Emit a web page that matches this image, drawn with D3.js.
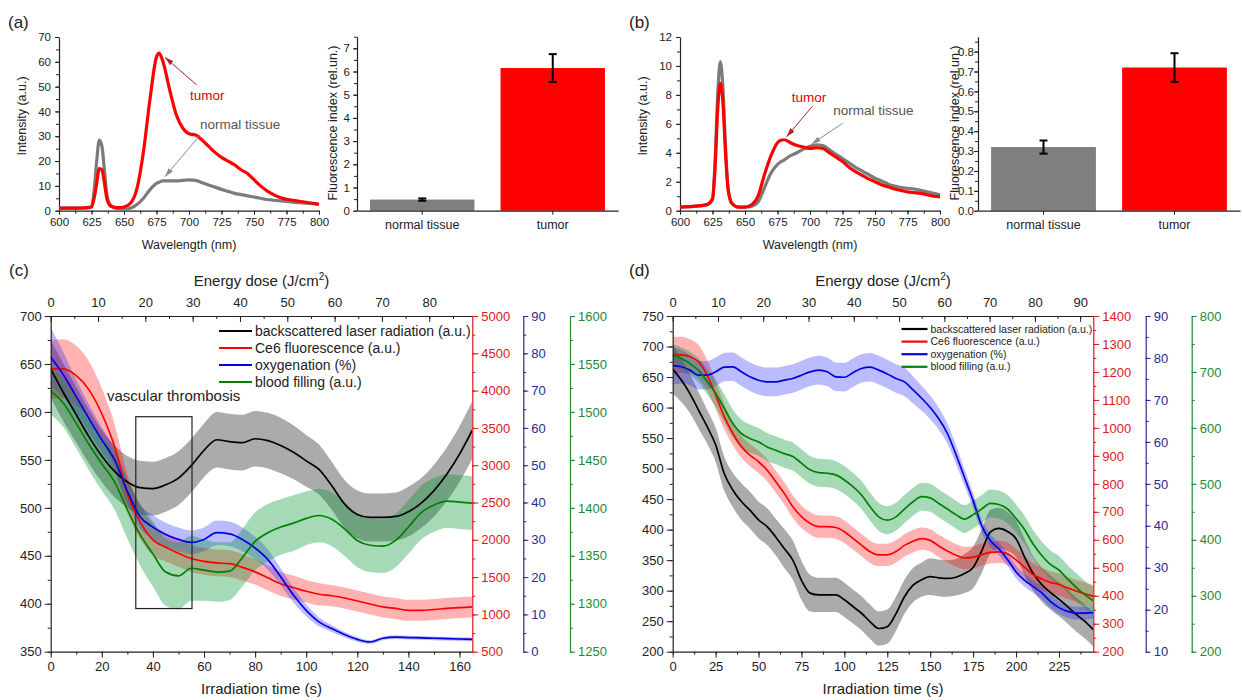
<!DOCTYPE html>
<html>
<head>
<meta charset="utf-8">
<script src="https://cdn.jsdelivr.net/npm/d3@7"></script>
<style>
  body { margin: 0; background: #fff; overflow: hidden; }
</style>
</head>
<body>
<div id="chart"></div>
<script>
// ---------- data ----------
// spectra, panels (a) and (b)
var wavelength = [600,610,620,625,627,629,631,633,635,637,640,645,650,655,660,665,670,675,677,680,685,690,695,700,705,710,715,720,725,730,735,740,745,750,755,760,765,770,775,780,785,790,795,800];
var specA_tumor  = [1,1,1.2,1.5,5,11,17,16.5,11,4.5,1.8,1.2,1.5,3,9,24,45,62,63.5,60,49,39,33.5,31,30.5,28.5,26,23.5,21.5,20,18.5,16.5,15,12.5,10,8,6.5,5.3,4.6,4.2,3.8,3.4,3,2.6];
var specA_normal = [1,1,1,1.5,8,20,28.5,26,16,6,2,0.8,0.5,1,2.5,5,8.5,11,11.5,12,12,12,12.2,12.4,12.2,11.3,10.4,9.5,8.6,7.8,7,6.5,6,5.5,5,4.5,4.2,4,3.7,3.4,3.2,3,2.8,2.6];
var specB_tumor  = [0.25,0.3,0.4,0.8,3,7,8.8,7.5,4,1.5,0.5,0.25,0.25,0.4,1,2.5,3.8,4.7,4.85,4.9,4.7,4.5,4.4,4.3,4.35,4.3,4,3.7,3.4,3,2.7,2.45,2.2,2,1.8,1.65,1.5,1.4,1.3,1.25,1.2,1.1,1,0.95];
var specB_normal = [0.25,0.3,0.4,0.8,3.5,8,10.3,8.5,4.5,1.5,0.5,0.25,0.25,0.3,0.6,1.6,2.6,3.2,3.35,3.5,3.8,4,4.25,4.45,4.55,4.5,4.2,3.9,3.6,3.3,3,2.75,2.5,2.25,2.05,1.85,1.7,1.6,1.55,1.5,1.4,1.3,1.2,1.1];
var wlTicks = [600,625,650,675,700,725,750,775,800];
var specA_yTicks = [0,10,20,30,40,50,60,70];
var specB_yTicks = [0,2,4,6,8,10,12];

// bar charts, panels (a) and (b)
var barCats = ["normal tissue", "tumor"];
var barA = [0.48, 6.15], barA_err = [0.05, 0.6];
var barB = [0.32, 0.72], barB_err = [0.033, 0.072];
var barA_yTicks = [0,1,2,3,4,5,6,7];
var barB_yTicks = [0,0.1,0.2,0.3,0.4,0.5,0.6,0.7,0.8];

// time courses, panel (c)
var timeC = [0,5,10,15,20,25,30,35,40,45,50,55,60,65,70,75,80,85,90,95,100,105,110,115,120,125,130,135,140,145,150,155,160,165];
var blackC    = [645,620,597,574,554,538,527,521,520,524,531,544,560,571,569,568,572,570,565,558,549,540,523,504,493,490,490,491,496,505,518,535,556,581];
var blackC_sd = [30,30,29,28,27,27,27,28,28,28,28,28,28,29,29,29,29,29,29,28,27,26,25,25,25,25,25,25,26,26,27,28,29,30];
var redC      = [4290,4290,4200,4010,3690,3250,2620,2240,2000,1900,1820,1750,1710,1690,1680,1630,1570,1490,1410,1360,1310,1270,1250,1220,1180,1140,1100,1080,1055,1055,1065,1080,1090,1100];
var redC_sd   = [390,400,400,380,340,300,260,230,210,190,180,180,180,180,180,180,170,170,160,160,150,150,140,140,140,140,140,140,140,140,140,140,140,140];
var blueC     = [79,74.2,68.4,62.5,56.8,51.4,43,36.2,33.4,31.4,30.1,29.3,30.1,31.9,31.6,30.1,27.8,24.7,20.1,15.2,11.1,8,6.2,4.6,3.3,2.6,3.6,3.9,3.8,3.7,3.6,3.5,3.4,3.3];
var blueC_sd  = [8,6,4.5,3.8,3.3,3.2,3.2,3.2,3.2,3.2,3.2,3.2,3.2,3.3,3.3,3.2,3,2.7,2.3,2,1.6,1.2,0.9,0.7,0.6,0.5,0.5,0.5,0.5,0.5,0.5,0.5,0.5,0.5];
var greenC    = [1522,1509,1488,1466,1446,1427,1398,1372,1352,1333,1329,1337,1335,1333,1334,1348,1365,1374,1380,1384,1389,1392,1388,1378,1366,1361,1360,1366,1380,1395,1403,1407,1406,1405];
var greenC_sd = [25,25,26,27,28,29,30,32,34,35,35,34,32,31,30,30,30,30,29,29,28,28,28,28,28,28,28,28,28,28,28,28,28,28];

// time courses, panel (d)
var timeD = [0,5,10,15,20,25,30,35,40,45,50,55,60,65,70,75,80,85,90,95,100,105,110,115,120,125,130,135,140,145,150,155,160,165,170,175,180,185,190,195,200,205,210,215,220,225,230,235,240,245];
var blackD    = [663,645,623,596,569,539,492,465,446,432,416,405,388,369,350,317,296,293,293,293,285,274,263,249,238,241,262,290,309,318,323,321,320,322,328,338,365,396,402,397,385,355,328,310,297,286,274,261,250,236];
var blackD_sd = [40,36,32,30,28,28,28,28,30,30,30,30,30,32,32,32,30,28,28,28,28,28,28,28,28,28,28,28,28,28,30,30,30,30,32,34,36,36,34,32,30,30,28,28,28,28,28,28,28,28];
var redD      = [1261,1261,1255,1237,1189,1118,1040,981,933,903,879,849,808,766,718,683,659,647,647,644,629,605,581,557,546,546,558,580,595,604,598,578,560,545,535,538,547,555,557,550,528,502,475,460,448,440,428,417,407,398];
var redD_sd   = [65,65,62,60,55,50,45,42,40,40,40,40,40,40,40,40,40,40,40,40,40,40,40,40,40,40,40,40,40,40,40,40,40,40,40,40,40,40,40,40,40,40,40,40,40,40,40,40,40,40];
var blueD     = [78.1,77.9,77.1,75.9,75.9,76.7,77.8,77.9,76.7,75.5,74.7,74.3,74.3,74.7,75.1,75.9,76.7,77.1,76.7,75.5,75.4,76.5,77.5,77.8,77.1,76.2,75.1,74.3,72.4,70.4,68.2,65.5,62,57,51.5,46,40,36.5,34.5,32,29,27,25.5,24,22,20.5,19.6,19.2,19.2,19.3];
var blueD_sd  = [4.5,4,3.6,3.4,3.4,3.4,3.4,3.4,3.4,3.4,3.4,3.4,3.4,3.4,3.4,3.4,3.4,3.4,3.4,3.4,3.4,3.4,3.4,3.4,3.4,3.4,3.4,3.4,3.2,3,2.8,2.6,2.4,2.2,2,1.8,1.6,1.5,1.5,1.5,1.5,1.5,1.5,1.5,1.5,1.5,1.5,1.5,1.5,1.5];
var greenD    = [730,724,715,703,683,662,635,608,590,581,575,566,560,554,549,537,525,520,519,516,507,495,480,459,441,435,441,455,468,477,475,465,455,445,437,445,455,465,463,455,438,418,392,372,356,346,330,315,302,291];
var greenD_sd = [20,20,21,22,23,24,25,25,25,25,25,25,25,25,25,25,25,25,25,25,25,25,25,25,25,25,25,25,25,25,25,25,25,25,25,25,25,25,25,25,25,25,25,25,25,25,25,25,25,25];

var legendLabels = ["backscattered laser radiation (a.u.)", "Ce6 fluorescence (a.u.)", "oxygenation (%)", "blood filling (a.u.)"];

// tick values for panels (c) and (d)
var timeTicksC = [0,20,40,60,80,100,120,140,160];
var doseTicksC = [0,10,20,30,40,50,60,70,80];
var leftTicksC = [350,400,450,500,550,600,650,700];
var redTicksC = [500,1000,1500,2000,2500,3000,3500,4000,4500,5000];
var blueTicksC = [0,10,20,30,40,50,60,70,80,90];
var greenTicksC = [1250,1300,1350,1400,1450,1500,1550,1600];

var timeTicksD = [0,25,50,75,100,125,150,175,200,225];
var doseTicksD = [0,10,20,30,40,50,60,70,80,90];
var leftTicksD = [200,250,300,350,400,450,500,550,600,650,700,750];
var redTicksD = [200,300,400,500,600,700,800,900,1000,1100,1200,1300,1400];
var blueTicksD = [10,20,30,40,50,60,70,80,90];
var greenTicksD = [200,300,400,500,600,700,800];

// ---------- drawing ----------
var FONT = "'Liberation Sans', Arial, Helvetica, sans-serif";
var RED = "#ff0000", RED_AX = "#d91a1a", BLUE = "#0000e0", BLUE_AX = "#2b2b8c", GREEN = "#008000", GREEN_AX = "#1f8a35";

var svg = d3.select("#chart").append("svg")
    .attr("width", 1242)
    .attr("height", 700)
    .style("font-family", FONT);

var defs = svg.append("defs");
function marker(id, color) {
  defs.append("marker")
      .attr("id", id)
      .attr("viewBox", "0 0 10 6")
      .attr("refX", 10).attr("refY", 3)
      .attr("markerWidth", 9).attr("markerHeight", 6)
      .attr("markerUnits", "userSpaceOnUse")
      .attr("orient", "auto")
    .append("path")
      .attr("d", "M0,0 L10,3 L0,6 Z")
      .attr("fill", color);
}
marker("arrRed", "#b32222");
marker("arrGray", "#8a8a8a");

// generic axis with major + minor ticks
function drawAxis(orient, scale, tx, ty, major, minorStep, opt) {
  opt = opt || {};
  var make = {left: d3.axisLeft, right: d3.axisRight, top: d3.axisTop, bottom: d3.axisBottom}[orient];
  var dir = opt.inward ? -1 : 1;
  var color = opt.color || "#222";
  var g = svg.append("g").attr("transform", "translate(" + tx + "," + ty + ")");
  if (minorStep) {
    var dom = scale.domain();
    var lo = Math.min(dom[0], dom[1]), hi = Math.max(dom[0], dom[1]);
    var minor = d3.range(Math.ceil(lo / minorStep - 1e-9) * minorStep, hi + 1e-9, minorStep);
    g.append("g")
        .call(make(scale).tickValues(minor).tickSize(3 * dir).tickSizeOuter(0).tickFormat(""))
      .select(".domain").remove();
  }
  var main = g.append("g")
      .call(make(scale).tickValues(major).tickSize((opt.tick || 6) * dir).tickSizeOuter(0)
        .tickPadding(opt.pad == null ? 3 : opt.pad).tickFormat(opt.fmt || d3.format("d")));
  g.selectAll(".tick line").attr("stroke", color).attr("stroke-width", 1);
  main.select(".domain").attr("stroke", color).attr("stroke-width", 1.2);
  main.selectAll(".tick text")
      .attr("fill", color)
      .attr("font-size", opt.size || 12)
      .attr("font-family", FONT);
  return g;
}

function label(txt, x, y, size, opt) {
  opt = opt || {};
  var t = svg.append("text")
      .attr("x", x).attr("y", y)
      .attr("font-size", size)
      .attr("fill", opt.color || "#222")
      .attr("text-anchor", opt.anchor || "start")
      .text(txt);
  if (opt.rotate) t.attr("transform", "rotate(-90," + x + "," + y + ")");
  return t;
}

// ---- spectrum panels ----
function spectrumPanel(p) {
  var x = d3.scaleLinear().domain([600, 800]).range([p.left, p.right]);
  var y = d3.scaleLinear().domain([0, p.ymax]).range([p.bottom, p.top]);

  drawAxis("bottom", x, 0, p.bottom, wlTicks, 12.5, {tick: 4, pad: 3, size: 11.5});
  drawAxis("left", y, p.left, 0, p.yTicks, p.yMinor, {tick: 4, pad: 4, size: 11.5});

  var line = d3.line()
      .x(function(d, i) { return x(wavelength[i]); })
      .y(function(d) { return y(d); })
      .curve(d3.curveMonotoneX);

  svg.append("path").datum(p.normal)
      .attr("d", line).attr("fill", "none")
      .attr("stroke", "#7b7b7b").attr("stroke-width", 3.2).attr("stroke-linejoin", "round");
  svg.append("path").datum(p.tumor)
      .attr("d", line).attr("fill", "none")
      .attr("stroke", RED).attr("stroke-width", 3.2).attr("stroke-linejoin", "round");

  // annotations
  p.notes.forEach(function(n) {
    svg.append("line")
        .attr("x1", x(n.from[0])).attr("y1", y(n.from[1]))
        .attr("x2", x(n.to[0])).attr("y2", y(n.to[1]))
        .attr("stroke", n.arrow).attr("stroke-width", 1)
        .attr("marker-end", "url(#" + n.marker + ")");
    label(n.text, x(n.at[0]), y(n.at[1]), 13.5, {color: n.color});
  });

  label("Wavelength (nm)", (p.left + p.right) / 2, 249, 12.5, {anchor: "middle"});
  label("Intensity (a.u.)", p.left - 33, 116, 12.5, {anchor: "middle", rotate: true});
}

spectrumPanel({
  left: 59, right: 319, top: 37, bottom: 210.7, ymax: 70,
  yTicks: specA_yTicks, yMinor: 5, tumor: specA_tumor, normal: specA_normal,
  notes: [
    {text: "tumor", at: [700.8, 44.6], color: "#e00000", from: [705.9, 50.7], to: [681.5, 61.8], arrow: "#b32222", marker: "arrRed"},
    {text: "normal tissue", at: [708.5, 32.8], color: "#555", from: [708.5, 30.5], to: [681.5, 13.7], arrow: "#8a8a8a", marker: "arrGray"}
  ]
});
spectrumPanel({
  left: 680, right: 940, top: 37, bottom: 210.7, ymax: 12,
  yTicks: specB_yTicks, yMinor: 1, tumor: specB_tumor, normal: specB_normal,
  notes: [
    {text: "tumor", at: [685.9, 7.53], color: "#e00000", from: [702, 7.23], to: [682, 5.11], arrow: "#b32222", marker: "arrRed"},
    {text: "normal tissue", at: [717.9, 6.61], color: "#555", from: [725.1, 6.04], to: [701.3, 4.61], arrow: "#8a8a8a", marker: "arrGray"}
  ]
});

// ---- bar panels ----
function barPanel(p) {
  var x = d3.scaleBand().domain(barCats).range([p.left, p.right]).paddingInner(0.2).paddingOuter(0.1);
  var y = d3.scaleLinear().domain([0, p.ymax]).range([p.bottom, p.top]);

  svg.append("g").selectAll("rect")
      .data(p.values)
      .enter().append("rect")
        .attr("x", function(d, i) { return x(barCats[i]); })
        .attr("width", x.bandwidth())
        .attr("y", function(d) { return y(d); })
        .attr("height", function(d) { return p.bottom - y(d); })
        .attr("fill", function(d, i) { return i === 0 ? "#7f7f7f" : RED; });

  var eb = svg.append("g").selectAll("g")
      .data(p.values)
      .enter().append("g")
        .attr("stroke", "#000").attr("stroke-width", 2);
  eb.append("line")
      .attr("x1", function(d, i) { return x(barCats[i]) + x.bandwidth() / 2; })
      .attr("x2", function(d, i) { return x(barCats[i]) + x.bandwidth() / 2; })
      .attr("y1", function(d, i) { return y(d - p.err[i]); })
      .attr("y2", function(d, i) { return y(d + p.err[i]); });
  [-1, 1].forEach(function(s) {
    eb.append("line")
        .attr("x1", function(d, i) { return x(barCats[i]) + x.bandwidth() / 2 - 4; })
        .attr("x2", function(d, i) { return x(barCats[i]) + x.bandwidth() / 2 + 4; })
        .attr("y1", function(d, i) { return y(d + s * p.err[i]); })
        .attr("y2", function(d, i) { return y(d + s * p.err[i]); });
  });

  var gx = svg.append("g").attr("transform", "translate(0," + p.bottom + ")")
      .call(d3.axisBottom(x).tickSize(4).tickSizeOuter(0).tickPadding(5));
  gx.select(".domain").attr("stroke", "#222").attr("stroke-width", 1.2);
  gx.selectAll(".tick line").attr("stroke", "#222");
  gx.selectAll(".tick text").attr("fill", "#222").attr("font-size", 12.5).attr("font-family", FONT);

  drawAxis("left", y, p.left, 0, p.yTicks, p.yMinor, {tick: 4, pad: p.pad, size: 11.5, fmt: p.fmt});
  label("Fluorescence index (rel.un.)", p.titleX, 123, 12.5, {anchor: "middle", rotate: true});
}

barPanel({left: 357, right: 618, top: 36.7, bottom: 210.7, ymax: 7.5, values: barA, err: barA_err,
  yTicks: barA_yTicks, yMinor: 0.5, pad: 3, fmt: d3.format("d"), titleX: 337});
barPanel({left: 978, right: 1240, top: 36.7, bottom: 210.7, ymax: 0.875, values: barB, err: barB_err,
  yTicks: barB_yTicks, yMinor: 0.05, pad: 0, fmt: d3.format(".1f"), titleX: 959});

label("(a)", 8, 28, 17);
label("(b)", 629, 28, 17);

// ---- time-course panels ----
function timePanel(p) {
  var x = d3.scaleLinear().domain([0, p.tmax]).range([p.left, p.right]);
  var xe = d3.scaleLinear().domain([0, p.emax]).range([p.left, p.right]);
  var yL = d3.scaleLinear().domain(p.leftDom).range([p.bottom, p.top]);
  var yR = d3.scaleLinear().domain(p.redDom).range([p.bottom, p.top]);
  var yB = d3.scaleLinear().domain(p.blueDom).range([p.bottom, p.top]);
  var yG = d3.scaleLinear().domain(p.greenDom).range([p.bottom, p.top]);

  var clipId = "clip" + p.id;
  defs.append("clipPath").attr("id", clipId)
    .append("rect")
      .attr("x", p.left).attr("y", p.top)
      .attr("width", p.right - p.left).attr("height", p.bottom - p.top);

  var series = [
    {v: p.black, sd: p.blackSd, y: yL, line: "#000", band: "rgba(0,0,0,0.33)"},
    {v: p.red, sd: p.redSd, y: yR, line: RED, band: "rgba(255,0,0,0.3)"},
    {v: p.blue, sd: p.blueSd, y: yB, line: BLUE, band: "rgba(30,30,255,0.3)"},
    {v: p.green, sd: p.greenSd, y: yG, line: GREEN, band: "rgba(0,150,45,0.35)"}
  ];

  var plot = svg.append("g").attr("clip-path", "url(#" + clipId + ")");
  series.forEach(function(s) {
    var area = d3.area()
        .x(function(d, i) { return x(p.time[i]); })
        .y0(function(d, i) { return s.y(d - s.sd[i]); })
        .y1(function(d, i) { return s.y(d + s.sd[i]); })
        .curve(d3.curveMonotoneX);
    plot.append("path").datum(s.v).attr("d", area).attr("fill", s.band);
  });
  series.forEach(function(s) {
    var line = d3.line()
        .x(function(d, i) { return x(p.time[i]); })
        .y(function(d) { return s.y(d); })
        .curve(d3.curveMonotoneX);
    plot.append("path").datum(s.v).attr("d", line)
        .attr("fill", "none").attr("stroke", s.line).attr("stroke-width", 1.7);
  });

  // axes
  drawAxis("left", yL, p.left, 0, p.leftTicks, 25, {size: 13});
  drawAxis("bottom", x, 0, p.bottom, p.timeTicks, p.timeMinor, {size: 13, pad: 4});
  drawAxis("top", xe, 0, p.top, p.doseTicks, 5, {inward: true, size: 13, pad: 9});
  drawAxis("right", yR, p.right, 0, p.redTicks, p.redMinor, {size: 13, color: RED_AX});
  drawAxis("right", yB, p.blueX, 0, p.blueTicks, 5, {size: 13, color: BLUE_AX, tick: 5});
  drawAxis("right", yG, p.greenX, 0, p.greenTicks, p.greenMinor, {size: 13, color: GREEN_AX, tick: 5});

  var cx = (p.left + p.right) / 2;
  var ed = label("Energy dose (J/cm", cx, 286, 15, {anchor: "middle"});
  ed.append("tspan").attr("dy", -6).attr("font-size", 10).text("2");
  ed.append("tspan").attr("dy", 6).text(")");
  label("Irradiation time (s)", cx, 694, 15, {anchor: "middle"});

  // legend
  var lg = p.legend;
  legendLabels.forEach(function(t, i) {
    var yy = lg.y + i * lg.dy;
    svg.append("line")
        .attr("x1", lg.x).attr("x2", lg.x + lg.len)
        .attr("y1", yy).attr("y2", yy)
        .attr("stroke", series[i].line).attr("stroke-width", 2.2);
    label(t, lg.x + lg.len + 3, yy + lg.size * 0.34, lg.size);
  });

  if (p.box) {
    svg.append("rect")
        .attr("x", x(p.box.t0)).attr("y", yL(p.box.v1))
        .attr("width", x(p.box.t1) - x(p.box.t0))
        .attr("height", yL(p.box.v0) - yL(p.box.v1))
        .attr("fill", "none").attr("stroke", "#222").attr("stroke-width", 1.2);
    label(p.box.text, x(p.box.tx), yL(p.box.vy), 15);
  }
}

timePanel({
  id: "C", left: 50.7, right: 472.3, top: 316, bottom: 651.7,
  tmax: 165, emax: 89.1, time: timeC,
  leftDom: [350, 700], redDom: [500, 5000], blueDom: [0, 90], greenDom: [1250, 1600],
  black: blackC, blackSd: blackC_sd, red: redC, redSd: redC_sd,
  blue: blueC, blueSd: blueC_sd, green: greenC, greenSd: greenC_sd,
  leftTicks: leftTicksC, timeTicks: timeTicksC, timeMinor: 10, doseTicks: doseTicksC,
  redTicks: redTicksC, redMinor: 250, blueTicks: blueTicksC, greenTicks: greenTicksC, greenMinor: 25,
  blueX: 523.3, greenX: 570,
  legend: {x: 219, y: 331, dy: 17, len: 33, size: 14},
  box: {t0: 33.3, t1: 55.3, v0: 395, v1: 595, text: "vascular thrombosis", tx: 22, vy: 611}
});

timePanel({
  id: "D", left: 672.7, right: 1093.3, top: 316, bottom: 651.7,
  tmax: 245, emax: 92.9, time: timeD,
  leftDom: [200, 750], redDom: [200, 1400], blueDom: [10, 90], greenDom: [200, 800],
  black: blackD, blackSd: blackD_sd, red: redD, redSd: redD_sd,
  blue: blueD, blueSd: blueD_sd, green: greenD, greenSd: greenD_sd,
  leftTicks: leftTicksD, timeTicks: timeTicksD, timeMinor: 12.5, doseTicks: doseTicksD,
  redTicks: redTicksD, redMinor: 50, blueTicks: blueTicksD, greenTicks: greenTicksD, greenMinor: 50,
  blueX: 1145.7, greenX: 1191.7,
  legend: {x: 901.5, y: 329, dy: 12.6, len: 26, size: 10.5}
});

label("(c)", 9, 276, 17);
label("(d)", 629, 276, 17);
</script>
</body>
</html>
